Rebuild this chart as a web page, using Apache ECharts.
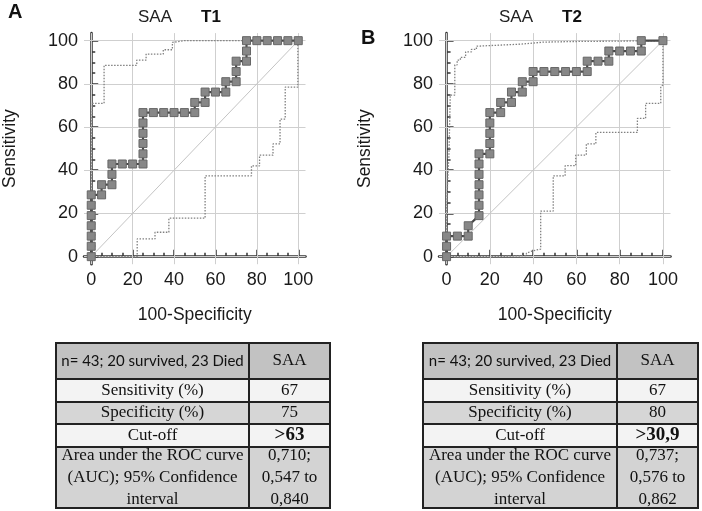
<!DOCTYPE html>
<html>
<head>
<meta charset="utf-8">
<script src="https://cdn.jsdelivr.net/npm/echarts@6/dist/echarts.min.js"></script>
<style>
  html, body { margin: 0; padding: 0; background: #fff; }
  #chart { width: 702px; height: 511px; }
</style>
</head>
<body>
<div id="chart"></div>
<script>
// ---- data ----
let tickVals = [0, 20, 40, 60, 80, 100];
let minorVals = [0, 5, 10, 15, 20, 25, 30, 35, 40, 45, 50, 55, 60, 65, 70, 75, 80, 85, 90, 95, 100];

// panel A (T1) - ROC points, x = 100-specificity, y = sensitivity
let rocAx = [0, 0, 0, 0, 0, 0, 0, 5, 5, 10, 10, 10, 15, 20, 25, 25, 25, 25, 25, 25, 30, 35, 40, 45, 50, 50, 55, 55, 60, 65, 65, 70, 70, 70, 75, 75, 75, 80, 85, 90, 95, 100];
let rocAy = [0, 4.8, 9.5, 14.3, 19, 23.8, 28.6, 28.6, 33.3, 33.3, 38.1, 42.9, 42.9, 42.9, 42.9, 47.6, 52.4, 57.1, 61.9, 66.7, 66.7, 66.7, 66.7, 66.7, 66.7, 71.4, 71.4, 76.2, 76.2, 76.2, 81, 81, 85.7, 90.5, 90.5, 95.2, 100, 100, 100, 100, 100, 100];
let upAx = [0.2, 0.2, 0.6, 0.6, 6.2, 6.2, 22, 22, 26.5, 26.5, 34.8, 34.8, 39.2, 39.2, 45, 100];
let upAy = [0, 61, 61, 71, 71, 88.6, 88.6, 91, 91, 93.8, 93.8, 95.8, 95.8, 99.2, 100, 100];
let loAx = [0, 22.2, 22.2, 30.8, 30.8, 37.5, 37.5, 55, 55, 77.4, 77.4, 81.3, 81.3, 87.8, 87.8, 91.2, 91.2, 93.7, 93.7, 99.8, 99.8];
let loAy = [0, 0, 8.2, 8.2, 11.3, 11.3, 17.8, 17.8, 37.4, 37.4, 42, 42, 47, 47, 52.2, 52.2, 63.7, 63.7, 78.5, 78.5, 100];

// panel B (T2)
let rocBx = [0, 0, 0, 5, 10, 10, 15, 15, 15, 15, 15, 15, 15, 20, 20, 20, 20, 20, 25, 25, 30, 30, 35, 35, 40, 40, 45, 50, 55, 60, 65, 65, 70, 75, 75, 80, 85, 90, 90, 100];
let rocBy = [0, 4.8, 9.5, 9.5, 9.5, 14.3, 19, 23.8, 28.6, 33.3, 38.1, 42.9, 47.6, 47.6, 52.4, 57.1, 61.9, 66.7, 66.7, 71.4, 71.4, 76.2, 76.2, 81, 81, 85.7, 85.7, 85.7, 85.7, 85.7, 85.7, 90.5, 90.5, 90.5, 95.2, 95.2, 95.2, 95.2, 100, 100];
let upBx = [0, 0, 0.5, 0.5, 1.1, 1.1, 1.7, 1.7, 3.8, 3.8, 4.9, 4.9, 6.4, 6.4, 8.8, 8.8, 11.5, 11.5, 13.8, 13.8, 15.4, 15.4, 34.6, 34.6, 44.6, 44.6, 58.5, 58.5, 100];
let upBy = [0, 20, 20, 35, 35, 47, 47, 74.8, 74.8, 88.8, 88.8, 91, 91, 92.3, 92.3, 94.8, 94.8, 96, 96, 97.5, 97.5, 98.4, 98.4, 99.3, 99.3, 99.6, 99.6, 100, 100];
let loBx = [0, 22, 22, 36.9, 36.9, 39.5, 43.5, 43.5, 49.3, 49.3, 54.8, 54.8, 59.7, 59.7, 64.6, 64.6, 69, 69, 88.2, 88.2, 92, 92, 99, 99, 100, 100];
let loBy = [0, 0, 0.5, 0.5, 1.6, 2.6, 3.5, 21.1, 21.1, 37.4, 37.4, 42.1, 42.1, 47, 47, 52.2, 52.2, 57.5, 57.5, 64, 64, 71, 71, 78.7, 79.5, 100];

// tables
let rowLabels = ['n= 43; 20 survived, 23 Died', 'Sensitivity (%)', 'Specificity (%)', 'Cut-off', 'Area under the ROC curve\n(AUC); 95% Confidence\ninterval'];
let valuesA = ['SAA', '67', '75', '>63', '0,710;\n0,547 to\n0,840'];
let valuesB = ['SAA', '67', '80', '>30,9', '0,737;\n0,576 to\n0,862'];

function zip(xs, ys) {
    return xs.map(function (x, i) { return [x, ys[i]]; });
}

let myChart = echarts.init(document.getElementById('chart'));

let sans = 'Liberation Sans, Arial, sans-serif';
let serif = 'Liberation Serif, Times New Roman, serif';

// main axes: line, labels, major ticks at 0,20,..,100
function mainX(grid, name) {
    return {
        gridIndex: grid, type: 'value', min: -3.5, max: 103.5, position: 'bottom',
        axisLine: { lineStyle: { color: '#333', width: 2.5 } },
        axisTick: { show: true, inside: true, length: 7, customValues: tickVals, lineStyle: { color: '#333', width: 1.5 } },
        axisLabel: { customValues: tickVals, fontSize: 18, color: '#1a1a1a', margin: 7, fontFamily: sans },
        splitLine: { show: false },
        name: name, nameLocation: 'middle', nameGap: 42,
        nameTextStyle: { fontSize: 17.5, color: '#1a1a1a', fontFamily: sans }
    };
}
function mainY(grid, name) {
    return {
        gridIndex: grid, type: 'value', min: -3.5, max: 103.5, position: 'left',
        axisLine: { lineStyle: { color: '#333', width: 2.5 } },
        axisTick: { show: true, inside: true, length: 7, customValues: tickVals, lineStyle: { color: '#333', width: 1.5 } },
        axisLabel: { customValues: tickVals, fontSize: 18, color: '#1a1a1a', margin: 6, fontFamily: sans },
        splitLine: { show: false },
        name: name, nameLocation: 'middle', nameGap: 65,
        nameTextStyle: { fontSize: 17.5, color: '#1a1a1a', fontFamily: sans }
    };
}
// second axis on the same spot, only for the short ticks every 5
function minorAxis(grid, pos) {
    return {
        gridIndex: grid, type: 'value', min: -3.5, max: 103.5, position: pos,
        axisLine: { show: false },
        axisTick: { show: true, inside: true, length: 4, customValues: minorVals, lineStyle: { color: '#333', width: 1.5 } },
        axisLabel: { show: false },
        splitLine: { show: false }
    };
}

function panelSeries(ax, roc, up, lo) {
    let base = { type: 'line', xAxisIndex: ax, yAxisIndex: ax, silent: true, animation: false };
    // light grid lines at the major tick values, across the whole grid, kept under the curves
    let gridLines = tickVals.map(function (v) { return { xAxis: v }; })
        .concat(tickVals.map(function (v) { return { yAxis: v }; }));
    return [
        Object.assign({}, base, {
            data: [], showSymbol: false, z: 1,
            markLine: {
                z: 1, silent: true, symbol: ['none', 'none'], animation: false,
                label: { show: false },
                lineStyle: { color: '#cfcfcf', width: 1, type: 'solid', opacity: 1 },
                emphasis: { disabled: true },
                data: gridLines
            }
        }),
        Object.assign({}, base, {
            data: [[0, 0], [100, 100]], showSymbol: false,
            lineStyle: { color: '#c4c4c4', width: 1 }, z: 2
        }),
        Object.assign({}, base, {
            data: up, showSymbol: false,
            lineStyle: { color: '#808080', width: 1.3, type: [1.5, 1.5] }, z: 3
        }),
        Object.assign({}, base, {
            data: lo, showSymbol: false,
            lineStyle: { color: '#808080', width: 1.3, type: [1.5, 1.5] }, z: 3
        }),
        Object.assign({}, base, {
            data: roc, symbol: 'rect', symbolSize: 8, showSymbol: true,
            itemStyle: { color: '#878787', borderColor: '#666', borderWidth: 1 },
            lineStyle: { color: '#484848', width: 2.2 }, z: 6
        })
    ];
}

// table drawn with graphic rects + texts
let rowY = [343, 379, 402, 424, 447, 508];
let rowFill = ['#c2c2c2', '#f3f3f3', '#d6d6d6', '#f3f3f3', '#d3d3d3'];
function buildTable(x0, xm, x1, values) {
    let els = [];
    for (let i = 0; i < rowLabels.length; i++) {
        let y = rowY[i], h = rowY[i + 1] - rowY[i];
        [[x0, xm], [xm, x1]].forEach(function (c) {
            els.push({
                type: 'rect', shape: { x: c[0], y: y, width: c[1] - c[0], height: h },
                style: { fill: rowFill[i], stroke: '#222', lineWidth: 2 }, silent: true
            });
        });
        let cy = y + h / 2;
        els.push({
            type: 'text', x: (x0 + xm) / 2, y: cy,
            style: {
                text: rowLabels[i], align: 'center', verticalAlign: 'middle',
                fontFamily: i === 0 ? 'Lato, Calibri, sans-serif' : serif,
                fontSize: i === 0 ? 15 : 17, lineHeight: 22, fill: '#111'
            }, z: 10
        });
        els.push({
            type: 'text', x: (xm + x1) / 2, y: cy,
            style: {
                text: values[i], align: 'center', verticalAlign: 'middle',
                fontFamily: serif, fontWeight: i === 3 ? 'bold' : 'normal',
                fontSize: i === 3 ? 19 : 17, lineHeight: 22, fill: '#111'
            }, z: 10
        });
    }
    return els;
}

let titles = [
    { type: 'text', x: 8, y: 2, style: { text: 'A', fontFamily: sans, fontWeight: 'bold', fontSize: 20, fill: '#111' } },
    { type: 'text', x: 361, y: 28, style: { text: 'B', fontFamily: sans, fontWeight: 'bold', fontSize: 20, fill: '#111' } },
    { type: 'text', x: 155, y: 17, style: { text: 'SAA', align: 'center', verticalAlign: 'middle', fontFamily: sans, fontSize: 17, fill: '#222' } },
    { type: 'text', x: 211, y: 17, style: { text: 'T1', align: 'center', verticalAlign: 'middle', fontFamily: sans, fontWeight: 'bold', fontSize: 17, fill: '#111' } },
    { type: 'text', x: 516, y: 17, style: { text: 'SAA', align: 'center', verticalAlign: 'middle', fontFamily: sans, fontSize: 17, fill: '#222' } },
    { type: 'text', x: 572, y: 17, style: { text: 'T2', align: 'center', verticalAlign: 'middle', fontFamily: sans, fontWeight: 'bold', fontSize: 17, fill: '#111' } }
];

myChart.setOption({
    backgroundColor: '#fff',
    animation: false,
    grid: [
        { left: 74.4, top: 33.1, width: 231.1, height: 231.1 },   // panel A
        { left: 439, top: 33.1, width: 231.5, height: 231.1 }     // panel B
    ],
    xAxis: [
        mainX(0, '100-Specificity'), minorAxis(0, 'bottom'),
        mainX(1, '100-Specificity'), minorAxis(1, 'bottom')
    ],
    yAxis: [
        mainY(0, 'Sensitivity'), minorAxis(0, 'left'),
        mainY(1, 'Sensitivity'), minorAxis(1, 'left')
    ],
    series: panelSeries(0, zip(rocAx, rocAy), zip(upAx, upAy), zip(loAx, loAy))
        .concat(panelSeries(2, zip(rocBx, rocBy), zip(upBx, upBy), zip(loBx, loBy))),
    graphic: titles
        .concat(buildTable(56, 249, 330, valuesA))
        .concat(buildTable(423, 617, 698, valuesB))
});

window.addEventListener('resize', function () {
    myChart.resize();
});
</script>
</body>
</html>
